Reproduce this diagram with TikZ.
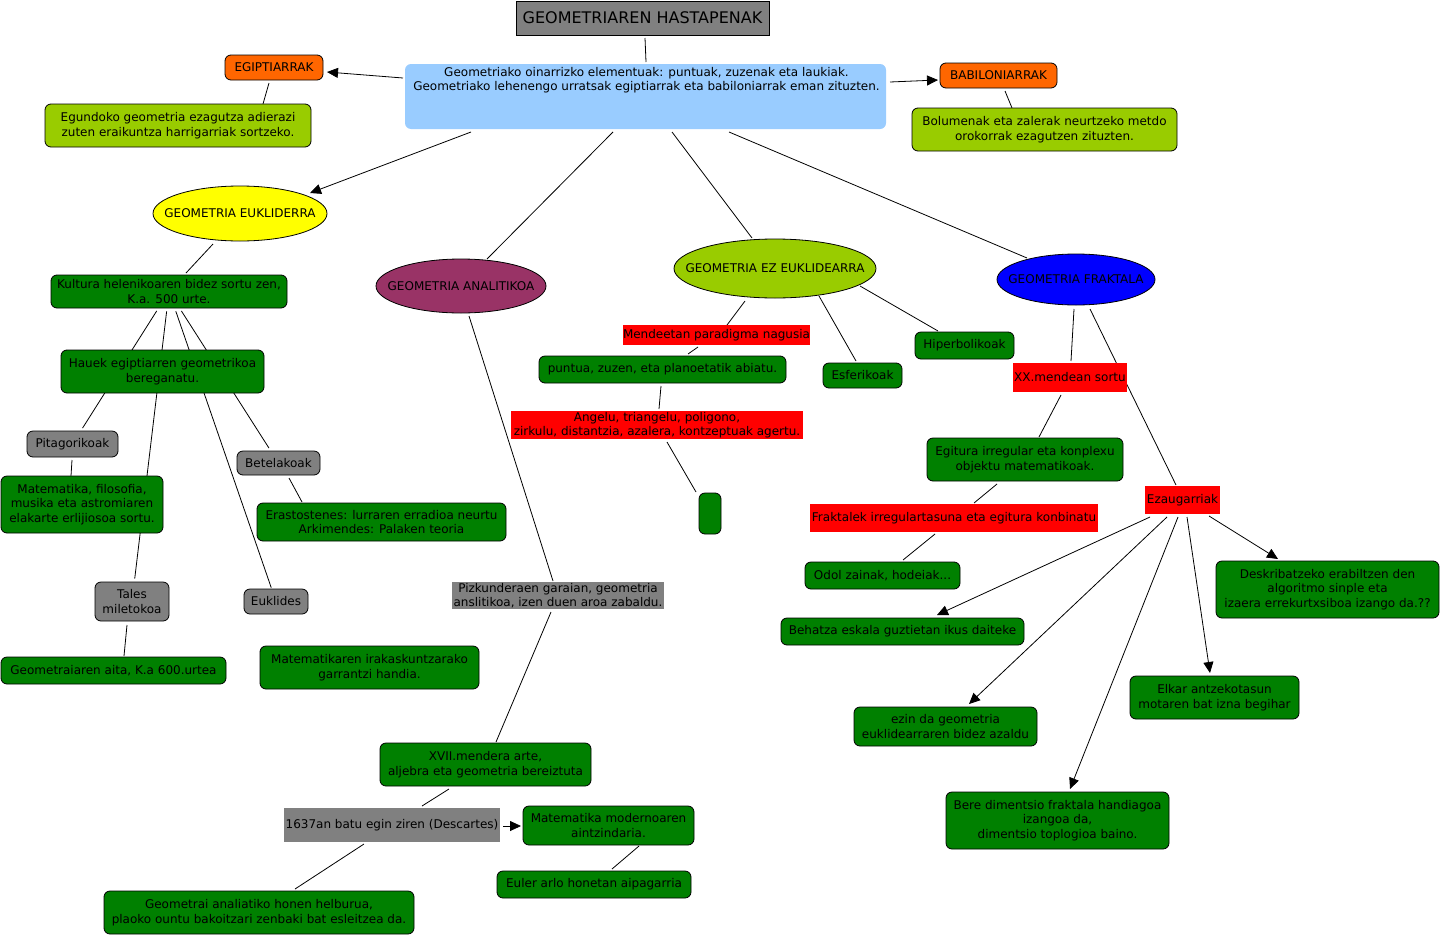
\documentclass[tikz,border=0pt]{standalone}
\usepackage{fontspec}
\setmainfont{DejaVu Sans}
\usetikzlibrary{shapes.geometric,arrows.meta,calc}
\definecolor{cgreen}{RGB}{0,128,0}
\definecolor{cyg}{RGB}{153,204,0}
\definecolor{corange}{RGB}{255,102,0}
\definecolor{cgray}{RGB}{128,128,128}
\definecolor{cred}{RGB}{255,0,0}
\definecolor{clblue}{RGB}{153,204,255}
\definecolor{cmaroon}{RGB}{153,51,102}
\definecolor{cblue}{RGB}{0,0,255}
\definecolor{cyellow}{RGB}{255,255,0}
\pgfdeclarelayer{bg}
\pgfsetlayers{bg,main}
\tikzset{
  base/.style={align=center, inner sep=0pt, text=black, font=\fontsize{12}{14.5}\selectfont},
  sz/.style 2 args={minimum width=#1pt, minimum height=#2pt},
  rbox/.style={base, draw=black, line width=0.8pt, rounded corners=6pt},
  gbox/.style={rbox, fill=cgreen},
  ygbox/.style={rbox, fill=cyg},
  obox/.style={rbox, fill=corange},
  grbox/.style={rbox, fill=cgray},
  redlab/.style={base, fill=cred},
  graylab/.style={base, fill=cgray},
  ell/.style={base, ellipse, draw=black, line width=0.8pt},
  conn/.style={draw=black, line width=0.8pt},
  arr/.style={conn, -{Triangle[length=11pt,width=10pt]}},
}
\begin{document}
\begin{tikzpicture}[x=1pt,y=-1pt]
\useasboundingbox (0,0) rectangle (1442,937);
\begin{pgfonlayer}{bg}
\fill[white] (0,0) rectangle (1442,937);
\end{pgfonlayer}

% top
\node[base, draw=black, line width=0.8pt, fill=cgray, sz={253}{34}, font=\fontsize{16}{19}\selectfont] (title) at (642.5,18) {GEOMETRIAREN HASTAPENAK};
\node[base, fill=clblue, rounded corners=6pt, sz={481}{65}] (main) at (645.5,96.5) {};
\node[base, anchor=north] (maintext) at ($(main.north)+(1,3)$) {Geometriako oinarrizko elementuak: puntuak, zuzenak eta laukiak.\\Geometriako lehenengo urratsak egiptiarrak eta babiloniarrak eman zituzten.};
\node[obox, sz={98}{25}] (egipt) at (274,67.5) {EGIPTIARRAK};
\node[ygbox, sz={266}{43}] (egund) at (178,125.5) {Egundoko geometria ezagutza adierazi\\zuten eraikuntza harrigarriak sortzeko.};
\node[obox, sz={117}{25}] (babil) at (998.5,75.5) {BABILONIARRAK};
\node[ygbox, sz={265}{43}] (bolum) at (1044.5,129.5) {Bolumenak eta zalerak neurtzeko metdo\\orokorrak ezagutzen zituzten.};

% ellipses
\node[ell, fill=cyellow, sz={174}{55}] (eukl) at (240,213.5) {\makebox[0pt]{GEOMETRIA EUKLIDERRA}};
\node[ell, fill=cmaroon, sz={170}{54}] (anal) at (461,286) {\makebox[0pt]{GEOMETRIA ANALITIKOA}};
\node[ell, fill=cyg, sz={202}{59}] (ezeu) at (775,268.5) {\makebox[0pt]{GEOMETRIA EZ EUKLIDEARRA}};
\node[ell, fill=cblue, sz={158}{51}] (frak) at (1076,279.5) {\makebox[0pt]{GEOMETRIA FRAKTALA}};

% euklidear branch
\node[gbox, sz={236}{33}] (kult) at (169,291.5) {Kultura helenikoaren bidez sortu zen,\\K.a. 500 urte.};
\node[gbox, sz={203}{43}] (hauek) at (162.5,371.5) {Hauek egiptiarren geometrikoa\\bereganatu.};
\node[grbox, sz={91}{26}] (pit) at (72.5,444) {Pitagorikoak};
\node[gbox, sz={162}{57}] (matf) at (82,504.5) {Matematika, filosofia,\\musika eta astromiaren\\elakarte erlijiosoa sortu.};
\node[grbox, sz={83}{24}] (betel) at (278.5,463) {Betelakoak};
\node[gbox, sz={249}{38}] (erast) at (381.5,522) {Erastostenes: lurraren erradioa neurtu\\Arkimendes: Palaken teoria};
\node[grbox, sz={74}{39}] (tales) at (132,601.5) {Tales\\miletokoa};
\node[grbox, sz={64}{25}] (euklides) at (276,601.5) {Euklides};
\node[gbox, sz={225}{27}] (aita) at (113.5,670.5) {Geometraiaren aita, K.a 600.urtea};
\node[gbox, sz={219}{43}] (irak) at (369.5,667.5) {Matematikaren irakaskuntzarako\\garrantzi handia.};

% ez euklidear branch
\node[redlab, sz={187}{20}] (mend) at (716.5,335) {Mendeetan paradigma nagusia};
\node[gbox, sz={247}{27}] (puntua) at (662.5,369.5) {puntua, zuzen, eta planoetatik abiatu.};
\node[redlab, sz={292}{28}] (angelu) at (657,425) {Angelu, triangelu, poligono,\\zirkulu, distantzia, azalera, kontzeptuak agertu.};
\node[gbox, sz={22}{41}] (emptyb) at (710,513.5) {};
\node[gbox, sz={79}{25}] (esfer) at (862.5,375.5) {Esferikoak};
\node[gbox, sz={99}{27}] (hiper) at (964.5,345.5) {Hiperbolikoak};

% fraktal branch
\node[redlab, sz={114}{29}] (xx) at (1070,377.5) {XX.mendean sortu};
\node[gbox, sz={196}{43}] (egitura) at (1025,459.5) {Egitura irregular eta konplexu\\objektu matematikoak.};
\node[redlab, sz={288}{28}] (fraktalek) at (954,518) {Fraktalek irregulartasuna eta egitura konbinatu};
\node[gbox, sz={155}{27}] (odol) at (882.5,575.5) {Odol zainak, hodeiak...};
\node[redlab, sz={75}{28}] (ezaug) at (1182.5,500) {Ezaugarriak};
\node[gbox, sz={223}{57}] (deskr) at (1327.5,589.5) {Deskribatzeko erabiltzen den\\algoritmo sinple eta\\izaera errekurtxsiboa izango da.??};
\node[gbox, sz={243}{27}] (behatza) at (902.5,631.5) {Behatza eskala guztietan ikus daiteke};
\node[gbox, sz={183}{39}] (ezin) at (945.5,726.5) {ezin da geometria\\euklidearraren bidez azaldu};
\node[gbox, sz={169}{43}] (elkar) at (1214.5,697.5) {Elkar antzekotasun\\motaren bat izna begihar};
\node[gbox, sz={223}{57}] (bere) at (1057.5,820.5) {Bere dimentsio fraktala handiagoa\\izangoa da,\\dimentsio toplogioa baino.};

% analitiko branch
\node[graylab, sz={212}{27}] (pizk) at (558,595.5) {Pizkunderaen garaian, geometria\\anslitikoa, izen duen aroa zabaldu.};
\node[gbox, sz={211}{43}] (xvii) at (485.5,764.5) {XVII.mendera arte,\\aljebra eta geometria bereiztuta};
\node[graylab, sz={216}{34}] (descartes) at (392,825) {1637an batu egin ziren (Descartes)};
\node[gbox, sz={171}{39}] (modern) at (608.5,825.5) {Matematika modernoaren\\aintzindaria.};
\node[gbox, sz={194}{27}] (euler) at (594,884.5) {Euler arlo honetan aipagarria};
\node[gbox, sz={310}{43}] (helburua) at (259,912.5) {Geometrai analiatiko honen helburua,\\plaoko ountu bakoitzari zenbaki bat esleitzea da.};

\begin{pgfonlayer}{bg}
\draw[conn] ($(title.center)+(2.5,20)$) -- ($(main.center)+(0.5,-34.5)$);
\draw[arr] ($(main.center)+(-242.5,-18.5)$) -- ($(egipt.center)+(53,4.5)$);
\draw[arr] ($(main.center)+(244.5,-14.5)$) -- ($(babil.center)+(-60.5,4.5)$);
\draw[conn] ($(egipt.center)+(-5,15.5)$) -- ($(egund.center)+(85,-21.5)$);
\draw[conn] ($(babil.center)+(6.5,15.5)$) -- ($(bolum.center)+(-32.5,-21.5)$);
\draw[arr] ($(main.center)+(-174.5,35.5)$) -- ($(eukl.center)+(70,-20.5)$);
\draw[conn] ($(main.center)+(-32.5,35.5)$) -- ($(anal.center)+(26,-27)$);
\draw[conn] ($(main.center)+(26.5,35.5)$) -- ($(ezeu.center)+(-23,-30.5)$);
\draw[conn] ($(main.center)+(83.5,35.5)$) -- ($(frak.center)+(-49,-21.5)$);
\draw[conn] ($(eukl.center)+(-27,30.5)$) -- ($(kult.center)+(17,-18.5)$);
\draw[conn, shorten <=3pt, shorten >=3pt] (kult) -- (pit);
\draw[conn, shorten <=3pt, shorten >=3pt] (kult) -- (tales);
\draw[conn, shorten <=3pt, shorten >=1pt] (kult) -- (euklides);
\draw[conn, shorten <=3pt, shorten >=3pt] (kult) -- (betel);
\draw[conn] ($(pit.center)+(-0.5,16)$) -- ($(matf.center)+(-11,-28.5)$);
\draw[conn] ($(tales.center)+(-5,23.5)$) -- ($(aita.center)+(10.5,-14.5)$);
\draw[conn] ($(betel.center)+(10.5,15)$) -- ($(erast.center)+(-79.5,-20)$);
\draw[conn] ($(ezeu.center)+(-30,32.5)$) -- ($(mend.center)+(10.5,-10)$);
\draw[conn] ($(mend.center)+(-18.5,12)$) -- ($(puntua.center)+(25.5,-15.5)$);
\draw[conn] ($(puntua.center)+(-1.5,16.5)$) -- ($(angelu.center)+(2,-16)$);
\draw[conn] ($(angelu.center)+(10,17)$) -- ($(emptyb.center)+(-14,-21.5)$);
\draw[conn] ($(ezeu.center)+(44,27.5)$) -- ($(esfer.center)+(-6.5,-14.5)$);
\draw[conn] ($(ezeu.center)+(85,17.5)$) -- ($(hiper.center)+(-26.5,-14.5)$);
\draw[conn] ($(frak.center)+(-2,29.5)$) -- ($(xx.center)+(1,-16.5)$);
\draw[conn] ($(frak.center)+(14,29.5)$) -- ($(ezaug.center)+(-6.5,-15)$);
\draw[conn] ($(xx.center)+(-9,17.5)$) -- ($(egitura.center)+(14,-22.5)$);
\draw[conn] ($(egitura.center)+(-28,24.5)$) -- ($(fraktalek.center)+(20,-15)$);
\draw[conn] ($(fraktalek.center)+(-19,16)$) -- ($(odol.center)+(20.5,-15.5)$);
\draw[arr] ($(ezaug.center)+(26.5,16)$) -- ($(deskr.center)+(-49.5,-30.5)$);
\draw[arr] ($(ezaug.center)+(-32.5,17)$) -- ($(behatza.center)+(34.5,-16.5)$);
\draw[arr] ($(ezaug.center)+(-15.5,17)$) -- ($(ezin.center)+(23.5,-22.5)$);
\draw[arr] ($(ezaug.center)+(-4.5,17)$) -- ($(bere.center)+(12.5,-31.5)$);
\draw[arr] ($(ezaug.center)+(4.5,17)$) -- ($(elkar.center)+(-4.5,-24.5)$);
\draw[conn] ($(anal.center)+(8,30)$) -- ($(pizk.center)+(-5,-14.5)$);
\draw[conn] ($(pizk.center)+(-7,16.5)$) -- ($(xvii.center)+(10.5,-22.5)$);
\draw[conn] ($(xvii.center)+(-36.5,24.5)$) -- ($(descartes.center)+(30,-19)$);
\draw[arr] ($(descartes.center)+(111,1)$) -- ($(modern.center)+(-87.5,0.5)$);
\draw[conn] ($(modern.center)+(30.5,20.5)$) -- ($(euler.center)+(18,-15.5)$);
\draw[conn] ($(descartes.center)+(-28,19)$) -- ($(helburua.center)+(36,-23.5)$);
\end{pgfonlayer}
\end{tikzpicture}
\end{document}
